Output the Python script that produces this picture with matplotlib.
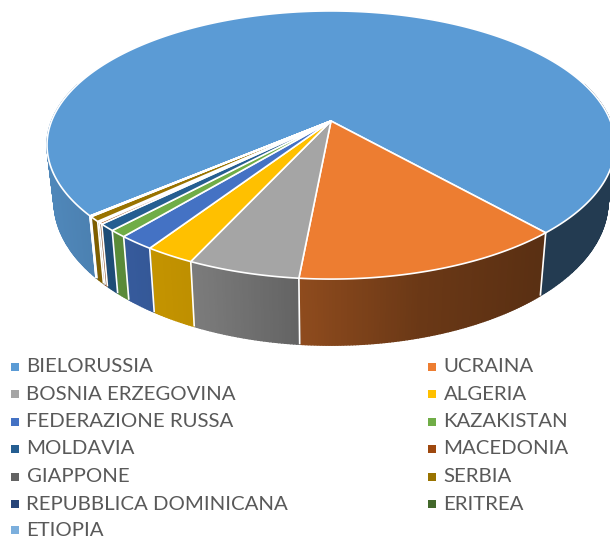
import numpy as np
import matplotlib
matplotlib.use("Agg")
import matplotlib.pyplot as plt
from matplotlib.patches import Polygon

# --- Data (percent of total) ---
countries = ["BIELORUSSIA", "UCRAINA", "BOSNIA ERZEGOVINA", "ALGERIA",
             "FEDERAZIONE RUSSA", "KAZAKISTAN", "MOLDAVIA", "MACEDONIA",
             "GIAPPONE", "SERBIA", "REPUBBLICA DOMINICANA", "ERITREA", "ETIOPIA"]
shares = [74.6, 13.1, 5.4, 2.4, 1.75, 0.85, 0.85, 0.2, 0.15, 0.6, 0.05, 0.03, 0.02]
colors = ["#5B9BD5", "#ED7D31", "#A5A5A5", "#FFC000", "#4472C4", "#70AD47",
          "#255E91", "#9E480E", "#636363", "#997300", "#264478", "#43682B", "#7CAFDD"]

start_angle = 229.7  # clockwise from the back of the pie

# perspective projection of the pie disc
apex = (331, 121)
dist = 5.58
top_fx, top_fy = 1559, 724
bot_fx, bot_fy, bot_y0 = 1520, 775, 176


def project(theta, level="top"):
    X = np.sin(theta)
    Y = -np.cos(theta)
    if level == "top":
        return apex[0] + top_fx * X / (dist - Y), apex[1] + top_fy * Y / (dist - Y)
    return apex[0] + bot_fx * X / (dist - Y), bot_y0 + bot_fy * Y / (dist - Y)


def wall_shade(x):
    # the side of the pie gets darker going to the right
    return np.interp(x, [50, 150, 200, 300, 420, 540, 610],
                     [0.87, 0.77, 0.74, 0.60, 0.45, 0.38, 0.38])


def shaded(color, k):
    return tuple(np.array(matplotlib.colors.to_rgb(color)) * k)


fig = plt.figure(figsize=(6.10, 5.39), dpi=100)
ax = fig.add_axes([0, 0, 1, 1])
ax.set_xlim(0, 610)
ax.set_ylim(539, 0)
ax.axis("off")

edges = np.radians(start_angle + np.concatenate([[0], np.cumsum(shares)]) / sum(shares) * 360)

# side walls first, only the front part shows
for i, color in enumerate(colors):
    th = np.linspace(edges[i], edges[i + 1], max(2, int(np.degrees(edges[i + 1] - edges[i]) * 2)))
    for a, b in zip(th[:-1], th[1:]):
        if -np.cos((a + b) / 2) < -0.3:
            continue
        xa, ya = project(a)
        xb, yb = project(b)
        xc, yc = project(b, "bot")
        xd, yd = project(a, "bot")
        k = wall_shade((xa + xb) / 2)
        ax.add_patch(Polygon([(xa, ya), (xb, yb), (xc, yc), (xd, yd)], closed=True,
                             facecolor=shaded(color, k), edgecolor=shaded(color, k), lw=1.0))

for e in edges:
    if -np.cos(e) > -0.3:
        x0, y0 = project(e)
        x1, y1 = project(e, "bot")
        ax.plot([x0, x1], [y0, y1], color="white", lw=1.2, solid_capstyle="butt")

# top face
for i, color in enumerate(colors):
    th = np.linspace(edges[i], edges[i + 1], max(2, int(np.degrees(edges[i + 1] - edges[i]) * 2)))
    xs, ys = project(th)
    pts = [apex] + list(zip(xs, ys))
    ax.add_patch(Polygon(pts, closed=True, facecolor=color, edgecolor="white", lw=1.2, joinstyle="round"))

# legend, two columns filled row by row
col_x = [15, 432]
row_y = [366.5, 394, 421.5, 449, 476.5, 504, 530]
for i, name in enumerate(countries):
    x = col_x[i % 2]
    y = row_y[i // 2]
    ax.scatter([x], [y], marker="s", s=38, color=colors[i], linewidths=0)
    ax.text(x + 11.5, y, name, color="#595959", fontsize=14.7, family="Lato", va="center", ha="left")

fig.savefig("out.png", dpi=100)
